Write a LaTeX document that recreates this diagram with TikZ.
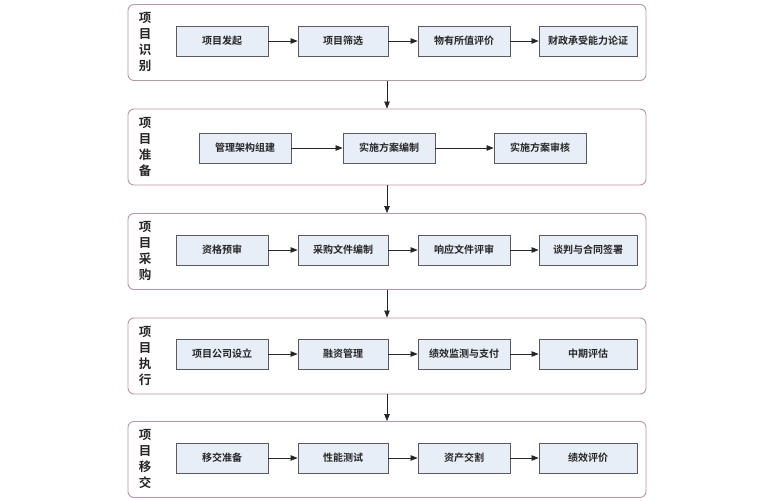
\documentclass[tikz,border=0pt]{standalone}
\usepackage{fontspec}
\newfontfamily\cjk{Noto Sans CJK SC}[BoldFont={Noto Sans CJK SC Bold}]
\usetikzlibrary{arrows.meta}

\definecolor{stageline}{RGB}{190,150,156}
\definecolor{boxfill}{RGB}{232,238,248}
\definecolor{boxline}{RGB}{90,90,90}

\begin{document}
\begin{tikzpicture}[
	x=1pt, y=-1pt,
	stage/.style={
		draw=stageline,
		line width=0.9pt,
		rounded corners=6pt,
		minimum width=518pt,
		minimum height=76pt,
		inner sep=0pt,
	},
	tag/.style={
		align=center,
		font=\cjk\bfseries\fontsize{12.5}{16}\selectfont,
		text=black!85,
		inner sep=0pt,
	},
	block/.style={
		draw=boxline,
		fill=boxfill,
		line width=0.8pt,
		minimum height=30pt,
		minimum width=92pt,
		inner sep=2pt,
		font=\cjk\bfseries\fontsize{10}{12}\selectfont,
		text=black!85,
	},
	flow/.style={
		-{Triangle[length=7pt,width=5.5pt]},
		line width=0.7pt,
		black!85,
	}
]
\useasboundingbox (0,0) rectangle (775,500);

% stages
\node[stage] (s1) at (387,42.5) {};
\node[stage] (s2) at (387,147) {};
\node[stage] (s3) at (387,251.5) {};
\node[stage] (s4) at (387,356) {};
\node[stage] (s5) at (387,459.5) {};

\node[tag] (t1) at (145,42) {项\\目\\识\\别};
\node[tag] (t2) at (145,147) {项\\目\\准\\备};
\node[tag] (t3) at (145,251) {项\\目\\采\\购};
\node[tag] (t4) at (145,356) {项\\目\\执\\行};
\node[tag] (t5) at (145,459) {项\\目\\移\\交};

% identification
\node[block] (a1) at (222,41) {项目发起};
\node[block, minimum width=90pt] (a2) at (343,41) {项目筛选};
\node[block] (a3) at (464,41) {物有所值评价};
\node[block, minimum width=98pt] (a4) at (588,41) {财政承受能力论证};

% preparation
\node[block] (b1) at (245,148) {管理架构组建};
\node[block] (b2) at (389,148) {实施方案编制};
\node[block] (b3) at (540,148) {实施方案审核};

% procurement
\node[block] (c1) at (222,250) {资格预审};
\node[block, minimum width=90pt] (c2) at (343,250) {采购文件编制};
\node[block] (c3) at (464,250) {响应文件评审};
\node[block, minimum width=98pt] (c4) at (588,250) {谈判与合同签署};

% execution
\node[block] (d1) at (222,354) {项目公司设立};
\node[block, minimum width=90pt] (d2) at (343,354) {融资管理};
\node[block] (d3) at (464,354) {绩效监测与支付};
\node[block, minimum width=98pt] (d4) at (588,354) {中期评估};

% transfer
\node[block] (e1) at (222,458) {移交准备};
\node[block, minimum width=90pt] (e2) at (343,458) {性能测试};
\node[block] (e3) at (464,458) {资产交割};
\node[block, minimum width=98pt] (e4) at (588,458) {绩效评价};

\draw[flow] (a1) -- (a2);
\draw[flow] (a2) -- (a3);
\draw[flow] (a3) -- (a4);
\draw[flow] (b1) -- (b2);
\draw[flow] (b2) -- (b3);
\draw[flow] (c1) -- (c2);
\draw[flow] (c2) -- (c3);
\draw[flow] (c3) -- (c4);
\draw[flow] (d1) -- (d2);
\draw[flow] (d2) -- (d3);
\draw[flow] (d3) -- (d4);
\draw[flow] (e1) -- (e2);
\draw[flow] (e2) -- (e3);
\draw[flow] (e3) -- (e4);

\draw[flow] (s1) -- (s2);
\draw[flow] (s2) -- (s3);
\draw[flow] (s3) -- (s4);
\draw[flow] (s4) -- (s5);

\end{tikzpicture}
\end{document}
